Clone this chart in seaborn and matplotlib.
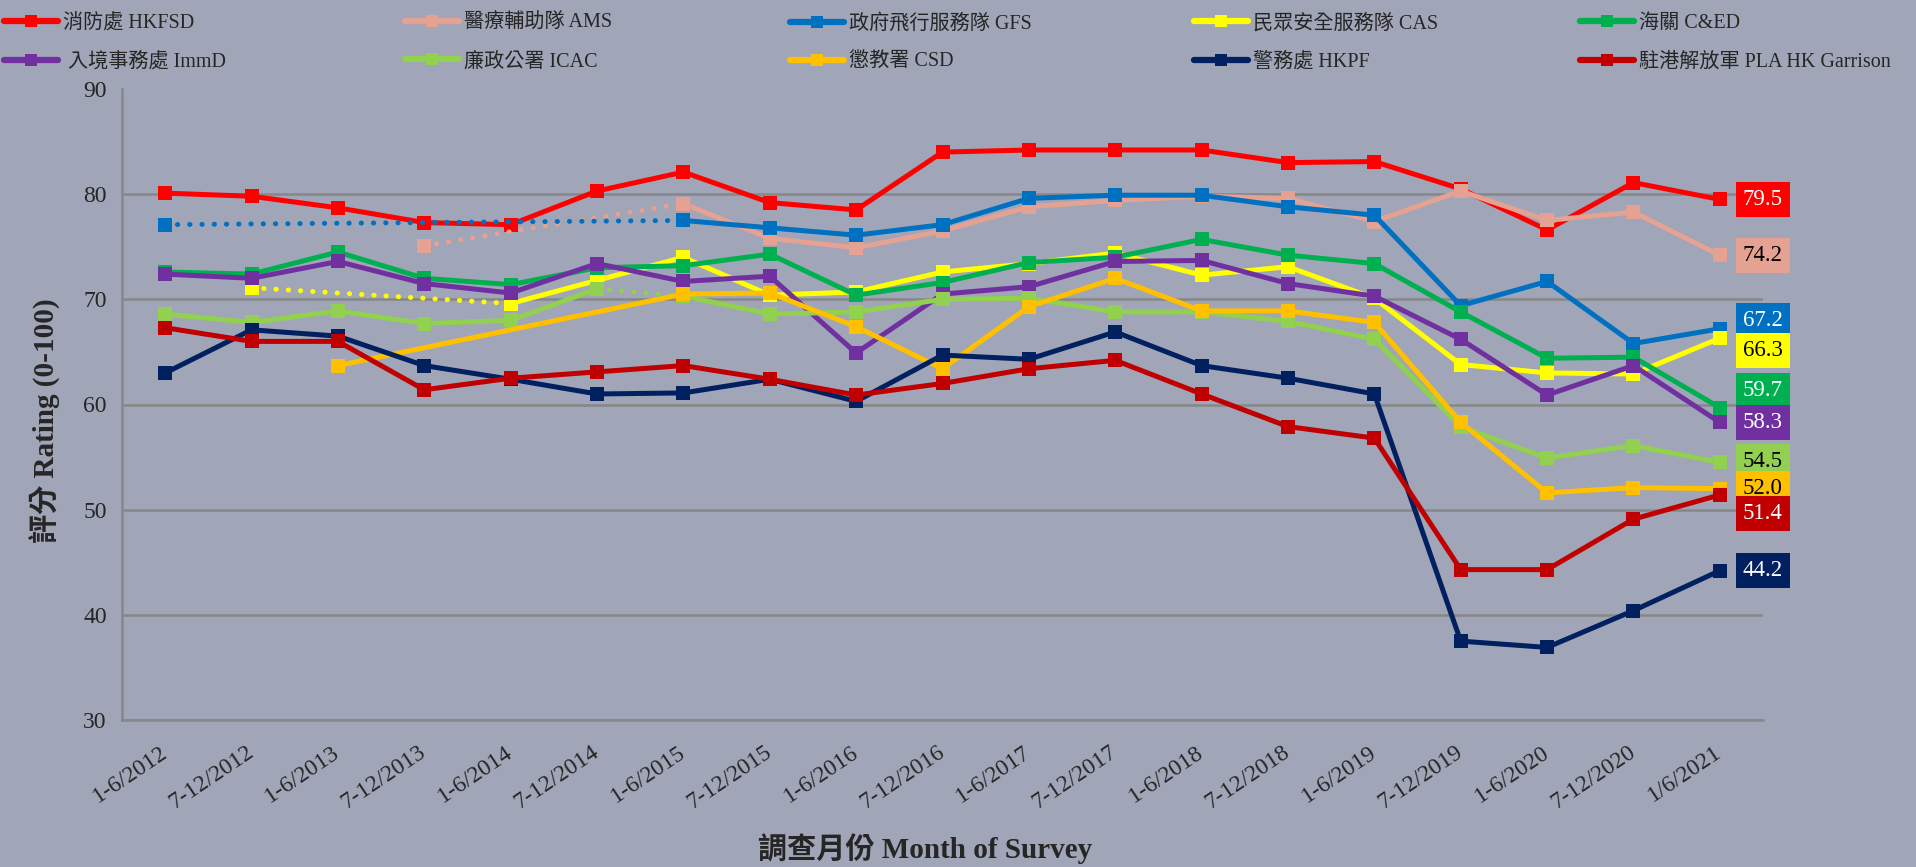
import numpy as np
import pandas as pd
import matplotlib
matplotlib.use("Agg")
import matplotlib.pyplot as plt
from matplotlib.lines import Line2D
import seaborn as sns

# survey periods
periods = ["1-6/2012", "7-12/2012", "1-6/2013", "7-12/2013", "1-6/2014", "7-12/2014",
           "1-6/2015", "7-12/2015", "1-6/2016", "7-12/2016", "1-6/2017", "7-12/2017",
           "1-6/2018", "7-12/2018", "1-6/2019", "7-12/2019", "1-6/2020", "7-12/2020",
           "1/6/2021"]

N = None
hkfsd = [80.1, 79.8, 78.7, 77.3, 77.1, 80.3, 82.1, 79.2, 78.5, 84.0, 84.2, 84.2, 84.2, 83.0, 83.1, 80.5, 76.6, 81.1, 79.5]
ams = [N, N, N, 75.1, N, N, 79.1, 75.8, 74.9, 76.5, 78.8, 79.4, 79.8, 79.6, 77.4, 80.3, 77.5, 78.3, 74.2]
gfs = [77.1, N, N, N, N, N, 77.5, 76.8, 76.1, 77.1, 79.6, 79.9, 79.9, 78.8, 78.0, 69.4, 71.7, 65.8, 67.2]
cas = [N, 71.1, N, N, 69.6, 71.8, 74.0, 70.4, 70.7, 72.6, 73.4, 74.4, 72.3, 73.1, 70.1, 63.8, 63.0, 62.9, 66.3]
cned = [72.6, 72.4, 74.5, 72.0, 71.4, 73.0, 73.2, 74.3, 70.4, 71.6, 73.5, 74.0, 75.7, 74.2, 73.4, 68.8, 64.4, 64.5, 59.7]
immd = [72.4, 72.0, 73.6, 71.5, 70.6, 73.4, 71.7, 72.2, 64.9, 70.5, 71.2, 73.6, 73.7, 71.5, 70.3, 66.2, 60.9, 63.7, 58.3]
icac = [68.6, 67.8, 68.9, 67.7, 68.0, 71.0, 70.3, 68.6, 68.8, 70.0, 70.1, 68.8, 68.8, 67.9, 66.2, 57.9, 54.9, 56.1, 54.5]
csd = [N, N, 63.7, N, N, N, 70.5, 70.6, 67.4, 63.4, 69.3, 72.0, 68.9, 68.9, 67.8, 58.3, 51.6, 52.1, 52.0]
hkpf = [63.0, 67.1, 66.5, 63.7, 62.4, 61.0, 61.1, 62.4, 60.3, 64.7, 64.3, 66.9, 63.7, 62.5, 61.0, 37.5, 36.9, 40.4, 44.2]
pla = [67.3, 66.0, 66.0, 61.4, 62.5, 63.1, 63.7, 62.4, 60.9, 62.0, 63.4, 64.2, 61.0, 57.9, 56.8, 44.3, 44.3, 49.1, 51.4]

names = ["消防處 HKFSD", "醫療輔助隊 AMS", "政府飛行服務隊 GFS", "民眾安全服務隊 CAS", "海關 C&ED",
         " 入境事務處 ImmD", "廉政公署 ICAC", "懲教署 CSD", "警務處 HKPF", "駐港解放軍 PLA HK Garrison"]
series = [hkfsd, ams, gfs, cas, cned, immd, icac, csd, hkpf, pla]
colors = ["#FF0000", "#E5A191", "#0070C0", "#FFFF00", "#00B050",
          "#7030A0", "#92D050", "#FFC000", "#002060", "#C00000"]
text_colors = ["white", "black", "white", "black", "white",
               "white", "black", "black", "white", "white"]
# segments drawn dotted (index pairs)
dotted = {2: [(0, 6)], 1: [(3, 6)], 3: [(1, 4)], 6: [(5, 6)]}
# vertical placement of end labels (shifted where they would collide)
label_y = [79.5, 74.2, 68.0, 65.1, 61.3, 58.3, 54.6, 52.0, 44.2, 49.6]

bg = "#A0A5B7"
grid_c = "#878787"

sns.set_style("white")
plt.rcParams["font.family"] = ["Liberation Serif", "Noto Sans CJK TC"]

fig = plt.figure(figsize=(19.16, 8.67), dpi=100, facecolor=bg)
ax = fig.add_axes([122 / 1916, 1 - 720 / 867, (1763 - 122) / 1916, (720 - 89) / 867])
ax.set_facecolor(bg)

for k, (vals, col) in enumerate(zip(series, colors)):
    df = pd.DataFrame({"x": np.arange(len(periods)), "y": pd.array(vals, dtype="Float64")})
    df = df.dropna()
    idx = list(df["x"])
    dots = dotted.get(k, [])
    # split into solid runs
    runs, cur = [], [idx[0]]
    for a, b in zip(idx[:-1], idx[1:]):
        if (a, b) in dots:
            runs.append(cur)
            cur = [b]
        else:
            cur.append(b)
    runs.append(cur)
    z = 3 + k
    for a, b in dots:
        seg = df[df["x"].isin([a, b])]
        sns.lineplot(data=seg, x="x", y="y", ax=ax, color=col, linewidth=3.6,
                     linestyle=(0, (0.05, 2.4)), dash_capstyle="round",
                     legend=False, zorder=z, estimator=None, sort=False)
    for r in runs:
        seg = df[df["x"].isin(r)]
        sns.lineplot(data=seg, x="x", y="y", ax=ax, color=col, linewidth=3.6,
                     marker="s", markersize=10, markeredgewidth=0,
                     legend=False, zorder=z, estimator=None, sort=False)

# end value labels
for k, vals in enumerate(series):
    ax.annotate(f"{vals[-1]:.1f}", xy=(len(periods) - 1, label_y[k]), xytext=(31, 0),
                textcoords="offset points", ha="center", va="center", fontsize=16.5,
                color=text_colors[k], annotation_clip=False, zorder=20,
                bbox=dict(boxstyle="square,pad=0.3", fc=colors[k], ec="none"))

ax.set_xlim(-0.5, len(periods) - 0.5)
ax.set_ylim(30, 90)
ax.set_yticks(range(30, 91, 10))
ax.set_xticks(range(len(periods)))
ax.set_xticks(np.arange(-0.5, len(periods), 1), minor=True)
ax.set_xticklabels(periods, rotation=34, ha="right", va="center", rotation_mode="anchor", fontsize=17)
ax.tick_params(axis="x", which="major", length=0, pad=22)
ax.tick_params(axis="x", which="minor", length=7, width=1.5, color=grid_c)
ax.tick_params(axis="y", length=7, width=1.5, color=grid_c, labelsize=17, pad=4)
ax.yaxis.grid(True, color=grid_c, linewidth=1.8)
ax.get_ygridlines()[-1].set_visible(False)
ax.set_axisbelow(True)
for s in ["top", "right"]:
    ax.spines[s].set_visible(False)
for s in ["left", "bottom"]:
    ax.spines[s].set_color(grid_c)
    ax.spines[s].set_linewidth(1.8)

ax.set_xlabel("調查月份 Month of Survey", fontsize=21, fontweight="bold")
ax.set_ylabel("評分 Rating (0-100)", fontsize=21, fontweight="bold")
ax.xaxis.label.set_va("center")
ax.yaxis.label.set_va("center")
ax.xaxis.set_label_coords((925 - 122) / (1763 - 122), -(849 - 720) / (720 - 89))
ax.yaxis.set_label_coords(-(122 - 45) / (1763 - 122), 0.475)

# legend: five columns of two entries
col_x = [4, 405, 790, 1194, 1580]
for c in range(5):
    handles = [Line2D([0], [0], color=colors[i], lw=4.5, marker="s", markersize=9,
                      markeredgewidth=0) for i in (c, c + 5)]
    fig.legend(handles, [names[c], names[c + 5]], loc="upper left",
               bbox_to_anchor=(col_x[c] / 1916, 1 - 14 / 867), frameon=False,
               fontsize=14.5, handlelength=2.7, handletextpad=0.25, labelspacing=0.95,
               borderpad=0, borderaxespad=0)

fig.savefig("out.png", dpi=100, facecolor=bg)
